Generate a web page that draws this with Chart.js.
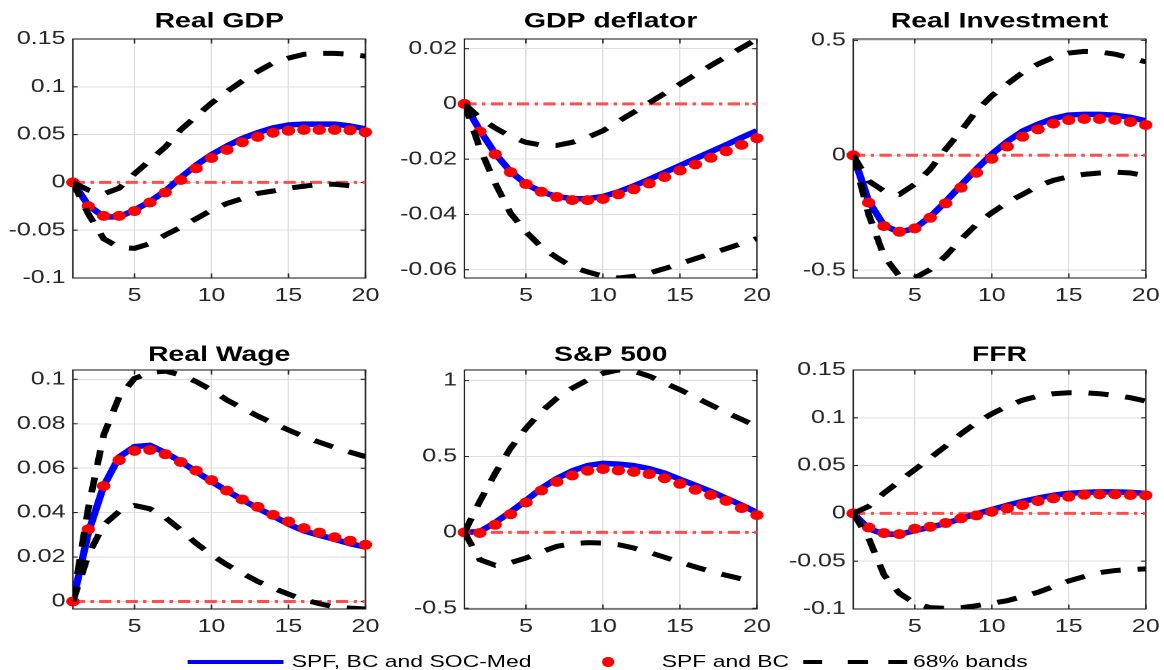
<!DOCTYPE html>
<html>
<head>
<meta charset="utf-8">
<script src="https://cdn.jsdelivr.net/npm/chart.js@4.4.1/dist/chart.umd.min.js"></script>
<style>
html,body{margin:0;padding:0;background:#fff;width:1164px;height:670px;overflow:hidden;}
#stage{position:absolute;left:0;top:0;width:862px;height:670px;transform:scaleX(1.35);transform-origin:0 0;}
.pan{position:absolute;}
.leg{position:absolute;font-family:"Liberation Sans",Arial,sans-serif;font-size:17px;color:#000;line-height:20px;white-space:nowrap;}
.sw{position:absolute;}
</style>
</head>
<body>
<div id="stage"></div>
<script>
// ---------- data ----------
const horizon = [1,2,3,4,5,6,7,8,9,10,11,12,13,14,15,16,17,18,19,20];
const xTickValues = [5,10,15,20];
const xTickLabels = ['5','10','15','20'];
const panelTitles = ['Real GDP','GDP deflator','Real Investment','Real Wage','S&P 500','FFR'];
const zeroLine = [0,0,0,0,0,0,0,0,0,0,0,0,0,0,0,0,0,0,0,0];
const legendLabels = ['SPF, BC and SOC-Med','SPF and BC','68% bands'];

// Real GDP
const gdpMed = [0,-0.024,-0.036,-0.036,-0.029,-0.020,-0.009,0.005,0.018,0.029,0.038,0.046,0.052,0.057,0.060,0.061,0.061,0.061,0.059,0.056];
const gdpBC  = [0,-0.025,-0.035,-0.035,-0.030,-0.021,-0.0105,0.0025,0.0147,0.0255,0.034,0.042,0.0476,0.052,0.054,0.055,0.055,0.055,0.0546,0.0525];
const gdpUp  = [0,-0.008,-0.012,-0.006,0.009,0.023,0.037,0.055,0.069,0.083,0.095,0.106,0.116,0.125,0.130,0.134,0.135,0.135,0.134,0.132];
const gdpLo  = [0,-0.033,-0.059,-0.068,-0.069,-0.064,-0.055,-0.047,-0.038,-0.029,-0.022,-0.017,-0.0115,-0.009,-0.006,-0.004,-0.002,-0.002,-0.0035,-0.0056];
const gdpTicks = [-0.1,-0.05,0,0.05,0.1,0.15];
const gdpTickLabels = ['-0.1','-0.05','0','0.05','0.1','0.15'];

// GDP deflator
const defMed = [0,-0.0095,-0.018,-0.0245,-0.029,-0.0318,-0.0335,-0.0343,-0.0343,-0.0335,-0.0318,-0.0297,-0.0273,-0.0248,-0.0223,-0.0198,-0.0173,-0.0148,-0.0122,-0.0097];
const defBC  = [0,-0.010,-0.0182,-0.0247,-0.029,-0.0318,-0.0337,-0.0348,-0.0348,-0.0344,-0.0327,-0.0309,-0.0288,-0.0265,-0.0241,-0.0219,-0.0195,-0.0171,-0.0148,-0.0124];
const defUp  = [0,-0.0051,-0.0087,-0.0118,-0.0139,-0.0149,-0.015,-0.0139,-0.0121,-0.0097,-0.0063,-0.003,0.0004,0.0038,0.0072,0.0106,0.0139,0.0171,0.0203,0.0235];
const defLo  = [0,-0.016,-0.0287,-0.0396,-0.0463,-0.0518,-0.0556,-0.059,-0.0608,-0.0623,-0.063,-0.0624,-0.0612,-0.0596,-0.0578,-0.056,-0.0542,-0.0524,-0.0505,-0.0487];
const defTicks = [-0.06,-0.04,-0.02,0,0.02];
const defTickLabels = ['-0.06','-0.04','-0.02','0','0.02'];

// Real Investment
const invMed = [0,-0.2,-0.305,-0.335,-0.318,-0.268,-0.202,-0.13,-0.06,0.005,0.06,0.105,0.135,0.16,0.175,0.178,0.178,0.174,0.165,0.15];
const invBC  = [0,-0.206,-0.308,-0.333,-0.318,-0.272,-0.209,-0.141,-0.076,-0.015,0.038,0.081,0.113,0.138,0.153,0.158,0.158,0.154,0.145,0.132];
const invUp  = [0,-0.112,-0.156,-0.170,-0.126,-0.061,0.026,0.106,0.193,0.259,0.310,0.36,0.397,0.426,0.445,0.452,0.45,0.44,0.423,0.407];
const invLo  = [0,-0.257,-0.439,-0.526,-0.534,-0.497,-0.439,-0.366,-0.301,-0.25,-0.206,-0.17,-0.134,-0.109,-0.093,-0.083,-0.077,-0.073,-0.077,-0.089];
const invTicks = [-0.5,0,0.5];
const invTickLabels = ['-0.5','0','0.5'];

// Real Wage
const wageMed = [0,0.031,0.052,0.065,0.0697,0.0703,0.067,0.063,0.0585,0.054,0.0498,0.0458,0.042,0.0385,0.0348,0.0318,0.0298,0.028,0.026,0.0245];
const wageBC  = [0,0.0325,0.052,0.0636,0.0678,0.0682,0.0663,0.0628,0.0589,0.0546,0.0499,0.0459,0.0426,0.039,0.036,0.033,0.031,0.0289,0.0273,0.0255];
const wageUp  = [0,0.042,0.075,0.092,0.1004,0.103,0.1037,0.102,0.099,0.0952,0.0907,0.087,0.0835,0.0802,0.0772,0.0742,0.0717,0.0693,0.0672,0.0652];
const wageLo  = [0,0.021,0.0345,0.0405,0.0432,0.0417,0.0378,0.0322,0.0262,0.021,0.0165,0.0127,0.009,0.006,0.0033,0.0008,-0.001,-0.0025,-0.003,-0.0034];
const wageTicks = [0,0.02,0.04,0.06,0.08,0.1];
const wageTickLabels = ['0','0.02','0.04','0.06','0.08','0.1'];

// S&P 500
const spMed = [0,0.005,0.065,0.135,0.21,0.29,0.355,0.405,0.44,0.455,0.45,0.44,0.42,0.39,0.35,0.31,0.27,0.225,0.18,0.13];
const spBC  = [0,-0.004,0.05,0.12,0.197,0.276,0.333,0.375,0.406,0.417,0.408,0.399,0.384,0.357,0.32,0.281,0.246,0.208,0.16,0.114];
const spUp  = [0,0.204,0.39,0.555,0.686,0.796,0.884,0.95,1.004,1.048,1.07,1.062,1.03,0.985,0.94,0.89,0.84,0.79,0.745,0.697];
const spLo  = [0,-0.18,-0.217,-0.2,-0.169,-0.129,-0.092,-0.075,-0.068,-0.07,-0.081,-0.103,-0.132,-0.164,-0.197,-0.228,-0.257,-0.283,-0.307,-0.327];
const spTicks = [-0.5,0,0.5,1];
const spTickLabels = ['-0.5','0','0.5','1'];

// FFR
const ffrMed = [0,-0.016,-0.0215,-0.022,-0.018,-0.0145,-0.0105,-0.0055,-0.0005,0.004,0.0085,0.0125,0.016,0.019,0.021,0.022,0.0225,0.0225,0.022,0.021];
const ffrBC  = [0,-0.0147,-0.0206,-0.0217,-0.016,-0.014,-0.0101,-0.0052,-0.0021,0.0017,0.0052,0.0087,0.0129,0.0157,0.0175,0.0196,0.0199,0.0199,0.0192,0.0189];
const ffrUp  = [0,0.0073,0.0213,0.0336,0.0458,0.058,0.0703,0.0832,0.0948,0.1042,0.1122,0.1185,0.1227,0.1252,0.1262,0.1262,0.1252,0.1234,0.121,0.1175];
const ffrLo  = [0,-0.0259,-0.0643,-0.0836,-0.094,-0.0986,-0.0993,-0.0986,-0.0965,-0.094,-0.0913,-0.087,-0.0825,-0.0766,-0.0706,-0.0661,-0.0619,-0.0598,-0.0587,-0.058];
const ffrTicks = [-0.1,-0.05,0,0.05,0.1,0.15];
const ffrTickLabels = ['-0.1','-0.05','0','0.05','0.1','0.15'];

// ---------- layout / style ----------
const FONT = '"Liberation Sans", Arial, Helvetica, sans-serif';
Chart.defaults.font.family = FONT;
const stage = document.getElementById('stage');
const CW = 290, CH = 306, YW = 56;
const colLeft = [54.44 - YW, 343.7 - YW, 631.85 - YW];
const rowTop = [0, 331];
const titleY = [21.5, 24];

const panels = [
  {title:panelTitles[0], med:gdpMed, bc:gdpBC, up:gdpUp, lo:gdpLo, ticks:gdpTicks, labels:gdpTickLabels, min:-0.1, max:0.15, c:0, r:0},
  {title:panelTitles[1], med:defMed, bc:defBC, up:defUp, lo:defLo, ticks:defTicks, labels:defTickLabels, min:-0.063, max:0.0235, c:1, r:0},
  {title:panelTitles[2], med:invMed, bc:invBC, up:invUp, lo:invLo, ticks:invTicks, labels:invTickLabels, min:-0.534, max:0.506, c:2, r:0},
  {title:panelTitles[3], med:wageMed, bc:wageBC, up:wageUp, lo:wageLo, ticks:wageTicks, labels:wageTickLabels, min:-0.0034, max:0.1042, c:0, r:1},
  {title:panelTitles[4], med:spMed, bc:spBC, up:spUp, lo:spLo, ticks:spTicks, labels:spTickLabels, min:-0.505, max:1.07, c:1, r:1},
  {title:panelTitles[5], med:ffrMed, bc:ffrBC, up:ffrUp, lo:ffrLo, ticks:ffrTicks, labels:ffrTickLabels, min:-0.1, max:0.15, c:2, r:1}
];

const boxPlugin = {
  id: 'box',
  beforeDatasetsDraw(chart, args, opts) {
    const {ctx, chartArea: a, scales} = chart;
    ctx.save();
    ctx.strokeStyle = '#262626';
    ctx.lineWidth = 1.1;
    ctx.strokeRect(a.left, a.top, a.right - a.left, a.bottom - a.top);
    ctx.beginPath();
    scales.y.ticks.forEach(t => {
      const py = scales.y.getPixelForValue(t.value);
      ctx.moveTo(a.left, py); ctx.lineTo(a.left + 3.5, py);
      ctx.moveTo(a.right, py); ctx.lineTo(a.right - 3.5, py);
    });
    scales.x.ticks.forEach(t => {
      const px = scales.x.getPixelForValue(t.value);
      ctx.moveTo(px, a.bottom); ctx.lineTo(px, a.bottom - 4.5);
      ctx.moveTo(px, a.top); ctx.lineTo(px, a.top + 4.5);
    });
    ctx.stroke();
    ctx.restore();
  },
  afterDraw(chart, args, opts) {
    const {ctx, chartArea: a} = chart;
    ctx.save();
    ctx.font = 'bold 21px ' + FONT;
    ctx.fillStyle = '#000';
    ctx.textAlign = 'center';
    ctx.textBaseline = 'middle';
    ctx.fillText(opts.title, (a.left + a.right) / 2, opts.titleY);
    ctx.restore();
  }
};

function pts(arr) { return horizon.map((h, i) => ({x: h, y: arr[i]})); }

panels.forEach(p => {
  const holder = document.createElement('div');
  holder.className = 'pan';
  holder.style.left = colLeft[p.c] + 'px';
  holder.style.top = rowTop[p.r] + 'px';
  holder.style.width = CW + 'px';
  holder.style.height = CH + 'px';
  const cv = document.createElement('canvas');
  cv.width = CW; cv.height = CH;
  cv.style.width = CW + 'px'; cv.style.height = CH + 'px';
  holder.appendChild(cv);
  stage.appendChild(holder);

  new Chart(cv, {
    type: 'line',
    data: {
      datasets: [
        {label: legendLabels[2], data: pts(p.up), borderColor: '#000', borderWidth: 5, borderDash: [15, 12.5], borderCapStyle: 'butt', pointRadius: 0, tension: 0, order: 0},
        {label: legendLabels[2] + ' (lower)', data: pts(p.lo), borderColor: '#000', borderWidth: 5, borderDash: [15, 12.5], borderCapStyle: 'butt', pointRadius: 0, tension: 0, order: 0},
        {label: legendLabels[1], data: pts(p.bc), showLine: false, pointRadius: 5, pointHoverRadius: 5, pointBackgroundColor: '#ff0000', pointBorderWidth: 0, pointBorderColor: '#ff0000', order: 1, clip: false},
        {label: legendLabels[0], data: pts(p.med), borderColor: '#0000ff', borderWidth: 5.5, borderJoinStyle: 'round', pointRadius: 0, tension: 0, order: 2},
        {label: 'zero', data: pts(zeroLine), borderColor: '#ff4d4d', borderWidth: 3, borderDash: [9, 4, 2.5, 4], pointRadius: 0, tension: 0, order: 3}
      ]
    },
    options: {
      responsive: false,
      animation: false,
      devicePixelRatio: 2,
      events: [],
      layout: {padding: {left: 0, right: 14, top: 39, bottom: 0}},
      plugins: {
        legend: {display: false},
        tooltip: {enabled: false},
        title: {display: false},
        box: {title: p.title, titleY: titleY[p.r]}
      },
      scales: {
        x: {
          type: 'linear', min: 1, max: 20,
          afterBuildTicks: s => { s.ticks = xTickValues.map(v => ({value: v})); },
          afterFit: s => { s.height = 28; },
          ticks: {callback: (v, i) => xTickLabels[i], padding: 7, font: {size: 18.5}, color: '#262626', maxRotation: 0, autoSkip: false},
          grid: {color: '#dedede', lineWidth: 1, drawTicks: false},
          border: {display: false}
        },
        y: {
          type: 'linear', min: p.min, max: p.max,
          afterBuildTicks: s => { s.ticks = p.ticks.map(v => ({value: v})); },
          afterFit: s => { s.width = YW; },
          ticks: {callback: (v, i) => p.labels[i], padding: 5.5, font: {size: 18.5}, color: '#262626', autoSkip: false},
          grid: {color: '#dedede', lineWidth: 1, drawTicks: false},
          border: {display: false}
        }
      }
    },
    plugins: [boxPlugin]
  });
});

// ---------- legend (HTML) ----------
function addSwatch(l, t, w, h, color, round) {
  const d = document.createElement('div');
  d.className = 'sw';
  d.style.left = l + 'px'; d.style.top = t + 'px';
  d.style.width = w + 'px'; d.style.height = h + 'px';
  d.style.background = color;
  if (round) d.style.borderRadius = '50%';
  stage.appendChild(d);
}
function addText(l, txt) {
  const s = document.createElement('div');
  s.className = 'leg';
  s.style.left = l + 'px'; s.style.top = '652px';
  s.textContent = txt;
  stage.appendChild(s);
}
addSwatch(138.7, 659.5, 71.2, 4.5, '#0000ff');
addText(216.1, legendLabels[0]);
addSwatch(446.2, 657.4, 9.2, 9.2, '#ff0000', true);
addText(490.1, legendLabels[1]);
addSwatch(594.8, 659.8, 13.9, 4.5, '#000');
addSwatch(628.1, 659.8, 14.9, 4.5, '#000');
addSwatch(657.8, 659.8, 14.1, 4.5, '#000');
addText(676.3, legendLabels[2]);
</script>
</body>
</html>
